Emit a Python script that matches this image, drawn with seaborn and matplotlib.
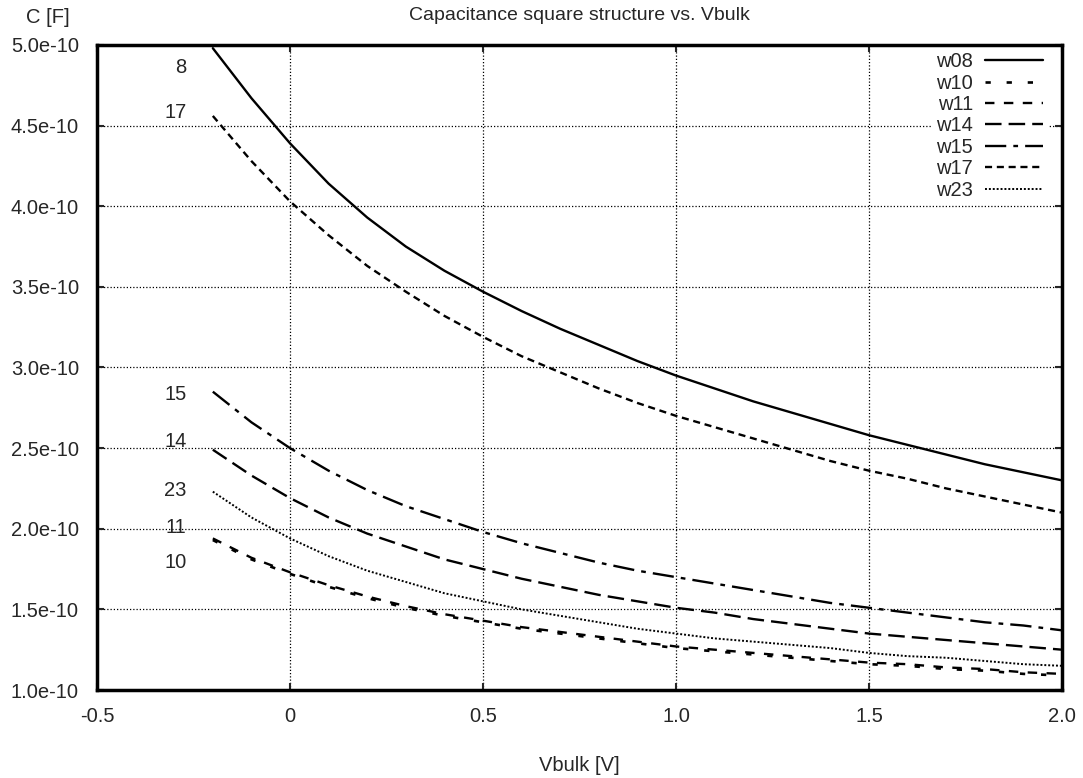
import matplotlib
matplotlib.use("Agg")
import matplotlib.pyplot as plt
import seaborn as sns
import pandas as pd

# Bulk voltage sweep [V]
vbulk = [-0.2, -0.1, 0.0, 0.1, 0.2, 0.3, 0.4, 0.5, 0.6, 0.7, 0.8, 0.9, 1.0,
         1.1, 1.2, 1.3, 1.4, 1.5, 1.6, 1.7, 1.8, 1.9, 2.0]

# Capacitance per structure, in units of 1e-10 F
w08 = [4.98, 4.67, 4.39, 4.14, 3.93, 3.75, 3.60, 3.47, 3.35, 3.24, 3.14, 3.04, 2.95,
       2.87, 2.79, 2.72, 2.65, 2.58, 2.52, 2.46, 2.40, 2.35, 2.30]
w10 = [1.93, 1.81, 1.72, 1.64, 1.57, 1.51, 1.46, 1.42, 1.38, 1.35, 1.32, 1.29, 1.26,
       1.24, 1.22, 1.20, 1.18, 1.16, 1.15, 1.13, 1.12, 1.10, 1.09]
w11 = [1.94, 1.82, 1.73, 1.65, 1.58, 1.52, 1.47, 1.43, 1.39, 1.36, 1.33, 1.30, 1.27,
       1.25, 1.23, 1.21, 1.19, 1.17, 1.16, 1.14, 1.13, 1.11, 1.10]
w14 = [2.49, 2.33, 2.19, 2.07, 1.97, 1.89, 1.81, 1.75, 1.69, 1.64, 1.59, 1.55, 1.51,
       1.48, 1.44, 1.41, 1.38, 1.35, 1.33, 1.31, 1.29, 1.27, 1.25]
w15 = [2.85, 2.66, 2.50, 2.36, 2.24, 2.14, 2.06, 1.98, 1.91, 1.85, 1.79, 1.74, 1.70,
       1.66, 1.62, 1.58, 1.54, 1.51, 1.48, 1.45, 1.42, 1.40, 1.37]
w17 = [4.56, 4.28, 4.03, 3.82, 3.63, 3.47, 3.32, 3.19, 3.07, 2.97, 2.87, 2.78, 2.70,
       2.63, 2.56, 2.49, 2.42, 2.36, 2.31, 2.25, 2.20, 2.15, 2.10]
w23 = [2.23, 2.07, 1.94, 1.83, 1.74, 1.67, 1.60, 1.55, 1.50, 1.46, 1.42, 1.38, 1.35,
       1.32, 1.30, 1.28, 1.26, 1.23, 1.21, 1.20, 1.18, 1.16, 1.15]

series_names = ["w08", "w10", "w11", "w14", "w15", "w17", "w23"]
series_values = [w08, w10, w11, w14, w15, w17, w23]

# Curve annotations: text and the y value (1e-10 F) where it sits
curve_labels = ["8", "17", "15", "14", "23", "11", "10"]
curve_label_y = [4.86, 4.58, 2.83, 2.54, 2.24, 2.01, 1.79]

x_ticks = [-0.5, 0.0, 0.5, 1.0, 1.5, 2.0]
x_tick_labels = ["-0.5", "0", "0.5", "1.0", "1.5", "2.0"]
y_ticks = [1.0, 1.5, 2.0, 2.5, 3.0, 3.5, 4.0, 4.5, 5.0]
y_tick_labels = ["1.0e-10", "1.5e-10", "2.0e-10", "2.5e-10", "3.0e-10",
                 "3.5e-10", "4.0e-10", "4.5e-10", "5.0e-10"]

styles = {
    "w08": ("-", 1.7),
    "w10": ((0, (2, 6)), 1.9),
    "w11": ((0, (4, 4)), 1.7),
    "w14": ((0, (7, 3)), 1.7),
    "w15": ((0, (9, 3, 2, 3)), 1.7),
    "w17": ((0, (3, 2)), 1.7),
    "w23": ((0, (1, 1)), 1.4),
}

sns.set_style("ticks")
plt.rcParams["font.family"] = ["Liberation Sans", "DejaVu Sans"]

FS = 14.5

rows = []
for name, vals in zip(series_names, series_values):
    for v, c in zip(vbulk, vals):
        rows.append({"Vbulk": v, "C": c * 1e-10, "series": name})
df = pd.DataFrame(rows)

fig = plt.figure(figsize=(10.83, 7.78), dpi=100)
ax = fig.add_axes([0.0896, 0.1131, 0.8910, 0.8291])

for name in series_names:
    ls, lw = styles[name]
    sub = df[df["series"] == name]
    sns.lineplot(data=sub, x="Vbulk", y="C", ax=ax, color="black",
                 linestyle=ls, linewidth=lw, label=name, legend=False)

for txt, yv in zip(curve_labels, curve_label_y):
    ax.text(-0.268, yv * 1e-10, txt, ha="right", va="center", fontsize=FS)

ax.set_xlim(-0.5, 2.0)
ax.set_ylim(1.0e-10, 5.0e-10)
ax.set_xticks(x_ticks)
ax.set_xticklabels(x_tick_labels)
ax.set_yticks([v * 1e-10 for v in y_ticks])
ax.set_yticklabels(y_tick_labels)
ax.tick_params(direction="in", length=5, width=1.5, labelsize=FS,
               top=True, right=True)
ax.tick_params(axis="y", pad=13)
ax.tick_params(axis="x", pad=12)
ax.grid(True, color="black", linestyle=(0, (1, 1.6)), linewidth=0.9)
for sp in ax.spines.values():
    sp.set_linewidth(2.5)
    sp.set_color("black")

ax.set_xlabel("Vbulk [V]", fontsize=FS, labelpad=22)
ax.set_ylabel("")
ax.set_title("Capacitance square structure vs. Vbulk", fontsize=FS - 0.5, pad=18)
fig.text(0.024, 0.978, "C [F]", fontsize=FS, ha="left", va="center")

handles, labels = ax.get_legend_handles_labels()
leg = ax.legend(handles, labels, loc="upper right", bbox_to_anchor=(0.985, 0.995),
                markerfirst=False, frameon=True, fontsize=FS, handlelength=2.9,
                handletextpad=0.6, labelspacing=0.12, borderpad=0.2,
                borderaxespad=0.0, fancybox=False)
leg.get_frame().set_edgecolor("none")
leg.get_frame().set_facecolor("white")
leg.get_frame().set_alpha(1.0)

fig.savefig("out.png", dpi=100, facecolor="white")
